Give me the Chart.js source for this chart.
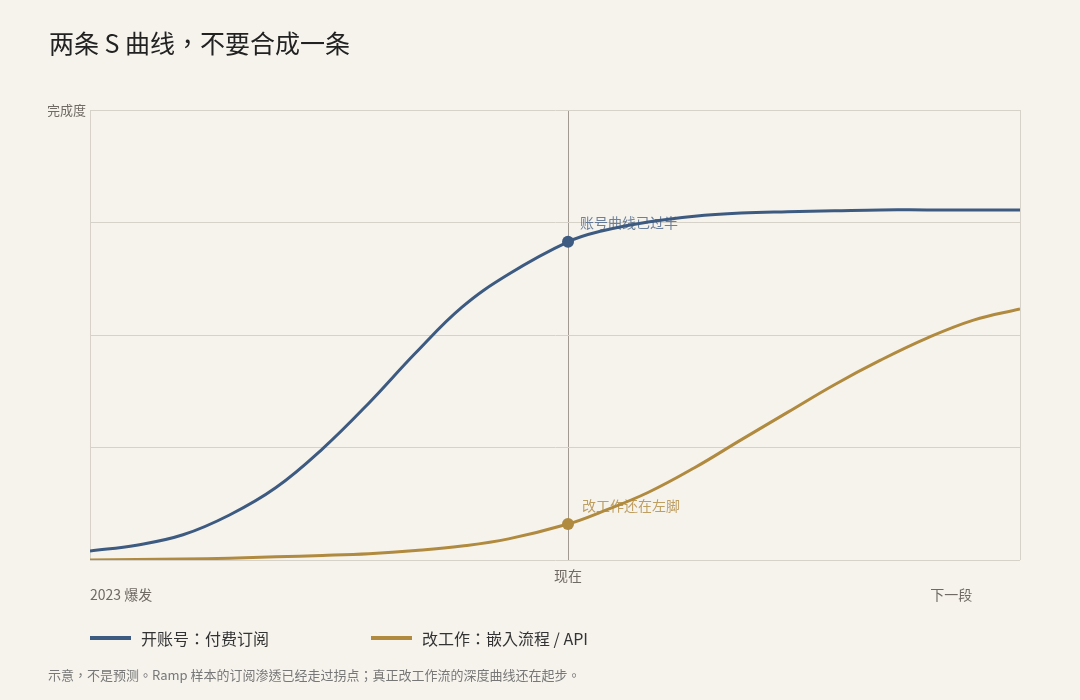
<!DOCTYPE html>
<html><head><meta charset="utf-8">
<script src="https://cdn.jsdelivr.net/npm/chart.js@4.4.1/dist/chart.umd.min.js"></script>
<style>
html,body{margin:0;padding:0;background:#f6f3ed;}
body{width:1080px;height:700px;position:relative;overflow:hidden;font-family:"Noto Sans CJK TC","Noto Sans",sans-serif;}
#title{position:absolute;left:49px;top:24px;font-size:25px;color:#222;font-weight:400;white-space:nowrap;}
#wrap{position:absolute;left:0;top:0;width:1080px;height:700px;}
.leg{position:absolute;top:626px;font-size:16px;color:#333;white-space:nowrap;display:flex;align-items:center;}
.leg i{display:inline-block;width:41px;height:4px;margin-right:10px;}
#note{position:absolute;left:48px;top:665px;font-size:13px;color:#777;white-space:nowrap;}
</style></head>
<body>
<div id="wrap"><canvas id="c"></canvas></div>
<div id="title">两条 S 曲线，不要合成一条</div>
<div class="leg" style="left:90px"><i style="background:#3d5a80"></i>开账号：付费订阅</div>
<div class="leg" style="left:371px"><i style="background:#b08a3e"></i>改工作：嵌入流程 / API</div>
<div id="note">示意，不是预测。Ramp 样本的订阅渗透已经走过拐点；真正改工作流的深度曲线还在起步。</div>
<script>
const xs = [0,5,10,15,20,25,30,35,40,45,51.4,55,60,65,70,75,80,85,90,95,100];
const subscription = [2.0,3.3,5.6,10.0,16.1,24.7,34.9,46.0,56.2,63.5,70.7,73.1,75.1,76.4,77.1,77.4,77.6,77.8,77.8,77.8,77.8];
const workflow = [0,0.1,0.2,0.4,0.7,1.0,1.4,2.1,3.1,4.7,8.0,10.7,15.0,20.5,26.7,32.8,38.9,44.4,49.3,53.3,55.8];
const NOW = 51.4;
const NOW_IDX = xs.indexOf(NOW);
const xTickValues = [0, NOW, 92.6, 100];
const xTickLabels = [["", "2023 爆发"], ["现在"], ["", "下一段"], ""];
const seriesNames = ["开账号：付费订阅", "改工作：嵌入流程 / API"];
const notes = ["账号曲线已过半", "改工作还在左脚"];
const colors = ["#3d5a80", "#b08a3e"];
const noteColors = ["rgba(61,90,128,0.75)", "rgba(176,138,62,0.8)"];
const FONT = '"Noto Sans CJK TC", sans-serif';

const annot = {
  id: 'annot',
  afterDatasetsDraw(chart) {
    const ctx = chart.ctx;
    ctx.save();
    ctx.font = '14px ' + FONT;
    ctx.textBaseline = 'middle';
    ctx.textAlign = 'left';
    const offs = [[12,-19],[14,-18]];
    chart.data.datasets.forEach((ds, i) => {
      const pt = chart.getDatasetMeta(i).data[NOW_IDX];
      ctx.fillStyle = noteColors[i];
      ctx.fillText(notes[i], pt.x + offs[i][0], pt.y + offs[i][1]);
    });
    ctx.restore();
  }
};

const mk = (i, vals) => ({
  label: seriesNames[i],
  data: xs.map((x, k) => ({x, y: vals[k]})),
  borderColor: colors[i],
  backgroundColor: colors[i],
  borderWidth: 3,
  tension: 0.4,
  pointRadius: c => c.dataIndex === NOW_IDX ? 6 : 0,
  pointHoverRadius: c => c.dataIndex === NOW_IDX ? 6 : 0,
  pointBorderWidth: 0,
  fill: false
});

new Chart(document.getElementById('c'), {
  type: 'line',
  data: { datasets: [mk(0, subscription), mk(1, workflow)] },
  plugins: [annot],
  options: {
    responsive: true, maintainAspectRatio: false, animation: false,
    layout: { padding: { left: 48, right: 60, top: 110, bottom: 90 } },
    plugins: { legend: { display: false }, tooltip: { enabled: false }, title: { display: false } },
    scales: {
      x: {
        type: 'linear', min: 0, max: 100,
        afterBuildTicks: s => { s.ticks = xTickValues.map(v => ({value: v})); },
        afterFit: s => { s.height = 50; },
        ticks: {
          align: 'inner', autoSkip: false, maxRotation: 0, padding: 6,
          color: '#6f6a63',
          font: { size: 14, family: FONT, lineHeight: '19px' },
          callback: (v) => { const k = xTickValues.indexOf(v); return k >= 0 ? xTickLabels[k] : ''; }
        },
        grid: {
          drawTicks: false,
          color: c => (c.tick && c.tick.value === NOW) ? '#a09a92' : ((c.tick && (c.tick.value === 0 || c.tick.value === 100)) ? '#d6d1c9' : 'rgba(0,0,0,0)'),
          lineWidth: 1
        },
        border: { display: false }
      },
      y: {
        min: 0, max: 100,
        afterFit: s => { s.width = 42; },
        ticks: {
          stepSize: 25, padding: 4, color: '#6f6a63',
          font: { size: 13, family: FONT },
          callback: v => v === 100 ? '完成度' : ''
        },
        grid: { drawTicks: false, color: '#d6d1c9', lineWidth: 1 },
        border: { display: true, color: '#d6d1c9' }
      }
    }
  }
});
</script>
</body></html>
